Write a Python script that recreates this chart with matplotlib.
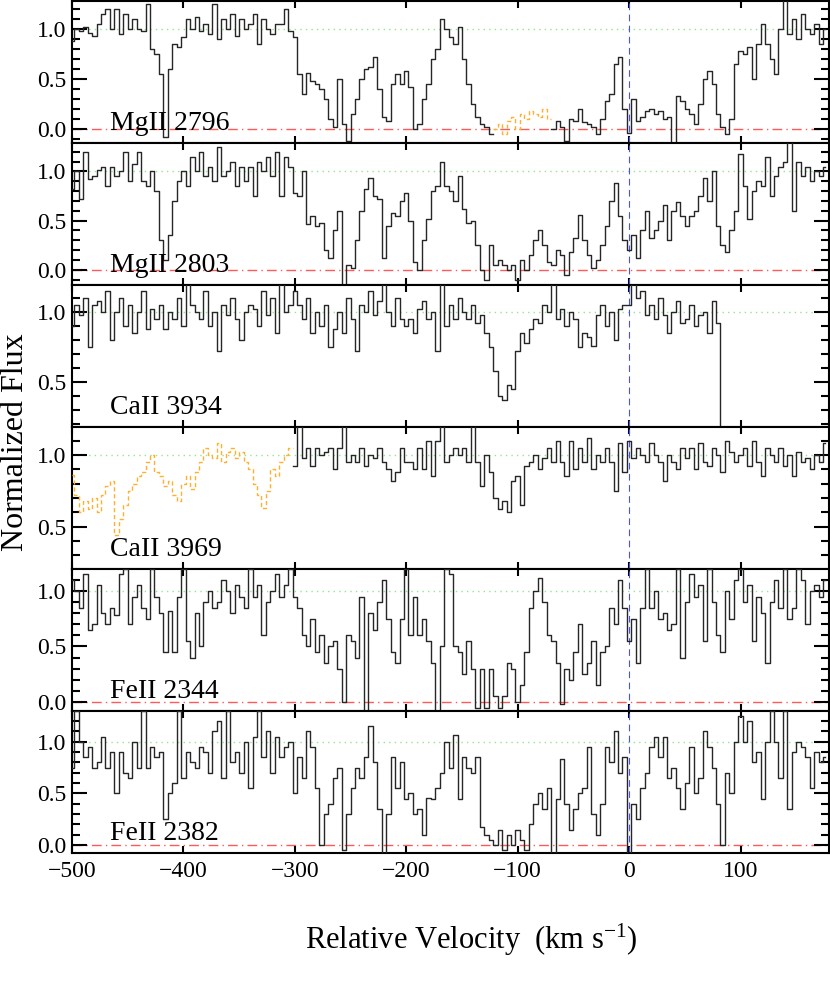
import numpy as np
import matplotlib
matplotlib.use("Agg")
import matplotlib.pyplot as plt
from matplotlib.ticker import MultipleLocator, FormatStrFormatter

plt.rcParams['font.family'] = ['Liberation Serif', 'DejaVu Serif']
plt.rcParams['mathtext.fontset'] = 'custom'
plt.rcParams['mathtext.rm'] = 'Liberation Serif'
plt.rcParams['mathtext.it'] = 'Liberation Serif:italic'

# ---------------- data ----------------
V_START = -500.0
V_STEP = 4.0
N_PIX = 170
velocity = V_START + V_STEP * np.arange(N_PIX)

line_names = ["MgII 2796", "MgII 2803", "CaII 3934", "CaII 3969", "FeII 2344", "FeII 2382"]

flux_mgii2796 = [
    0.88, 1.0, 0.98, 1.02, 0.96, 0.93, 1.05, 1.15, 1.2, 1.0,
    1.2, 0.95, 1.15, 1.0, 1.1, 1.0, 0.98, 1.25, 0.8, 0.75,
    0.55, -0.08, 0.6, 0.85, 0.82, 0.92, 1.1, 1.0, 1.12, 0.98,
    1.05, 0.95, 1.25, 0.9, 1.1, 1.0, 1.15, 0.93, 1.1, 1.0,
    1.05, 1.15, 0.85, 1.1, 1.0, 0.95, 1.05, 1.05, 1.2, 0.98,
    0.92, 0.55, 0.35, 0.56, 0.48, 0.45, 0.4, 0.3, 0.1, 0.02,
    0.5, 0.05, -0.12, 0.15, 0.3, 0.5, 0.6, 0.62, 0.72, 0.4,
    0.12, 0.08, 0.45, 0.55, 0.45, 0.58, 0.42, 0.0, 0.05, 0.3,
    0.45, 0.7, 0.8, 1.1, 1.0, 0.92, 0.85, 1.02, 0.7, 0.45,
    0.25, 0.12, 0.05, 0.02, -0.05, 0.0, 0.05, -0.05, 0.08, 0.12,
    0.0, 0.15, 0.1, 0.18, 0.15, 0.12, 0.2, 0.1, 0.0, 0.08,
    0.02, -0.12, 0.1, 0.08, 0.2, 0.07, 0.05, 0.02, -0.05, 0.1,
    0.28, 0.35, 0.65, 0.72, 0.2, -0.04, 0.3, 0.08, 0.12, 0.18,
    0.2, 0.15, 0.18, 0.1, 0.12, -0.14, 0.33, 0.28, 0.2, 0.15,
    0.05, 0.25, 0.5, 0.58, 0.45, 0.15, 0.02, -0.05, 0.1, 0.65,
    0.78, 0.75, 0.82, 0.5, 0.85, 1.05, 0.85, 0.7, 0.55, 1.0,
    1.3, 0.95, 1.1, 0.9, 1.15, 1.0, 0.95, 1.05, 0.85, 1.0,
]

flux_mgii2803 = [
    0.82, 1.0, 0.72, 1.2, 0.92, 0.95, 1.02, 1.05, 0.85, 1.05,
    0.95, 1.0, 1.2, 0.9, 1.08, 1.2, 0.9, 0.85, 1.0, 0.8,
    0.3, 0.1, 0.35, 0.7, 0.9, 1.0, 0.85, 1.15, 1.0, 1.2,
    0.95, 1.05, 0.9, 1.25, 0.95, 1.0, 1.1, 0.85, 1.05, 0.9,
    1.05, 0.75, 1.1, 1.0, 1.15, 0.95, 1.2, 0.75, 1.15, 1.05,
    0.78, 0.75, 1.0, 0.47, 0.55, 0.45, 0.48, 0.2, 0.12, 0.4,
    0.6, -0.15, 0.05, 0.02, 0.3, 0.6, 0.82, 0.93, 0.75, 0.72,
    0.12, 0.45, 0.58, 0.55, 0.7, 0.78, 0.5, 0.08, 0.0, 0.3,
    0.52, 0.8, 0.85, 1.1, 0.85, 0.8, 0.7, 0.95, 0.62, 0.48,
    0.5, 0.25, 0.0, -0.1, 0.25, 0.05, 0.1, 0.05, 0.0, 0.05,
    -0.1, 0.1, 0.0, 0.15, 0.3, 0.4, 0.25, 0.08, 0.05, 0.2,
    0.15, -0.05, 0.18, 0.32, 0.56, 0.3, 0.15, 0.02, 0.1, 0.25,
    0.45, 0.7, 0.88, 0.55, 0.3, 0.2, 0.35, 0.12, 0.4, 0.6,
    0.32, 0.4, 0.5, 0.66, 0.3, 0.6, 0.69, 0.55, 0.45, 0.55,
    0.6, 0.75, 0.93, 0.7, 1.0, 0.45, 0.25, 0.18, 0.4, 0.6,
    1.18, 0.85, 0.52, 0.8, 0.9, 0.85, 1.15, 0.75, 0.95, 1.05,
    1.1, 1.3, 0.6, 1.1, 0.95, 1.05, 0.9, 1.0, 0.95, 1.05,
]

nan = np.nan
flux_caii3934 = [
    0.9, 1.05, 0.98, 1.1, 0.75, 1.05, 1.08, 1.0, 1.15, 0.8,
    1.0, 1.1, 0.9, 1.05, 0.85, 1.0, 1.15, 0.88, 1.02, 0.95,
    1.05, 0.88, 1.0, 0.95, 1.1, 0.9, 1.2, 1.05, 1.0, 0.95,
    1.15, 0.9, 1.0, 0.72, 1.05, 0.98, 1.1, 0.95, 0.8, 1.0,
    1.05, 1.02, 0.9, 1.15, 0.98, 1.1, 0.85, 1.2, 1.0, 1.05,
    1.15, 1.05, 0.95, 1.1, 0.85, 1.0, 0.9, 1.05, 0.75, 0.88,
    1.0, 0.85, 1.1, 0.95, 0.72, 1.05, 1.0, 1.15, 0.98, 1.08,
    1.2, 1.0, 0.9, 1.1, 0.95, 0.9, 0.95, 0.85, 1.02, 1.08,
    0.95, 1.0, 0.72, 1.2, 0.9, 1.05, 0.95, 1.1, 1.0, 0.95,
    1.05, 0.92, 0.98, 0.85, 0.75, 0.58, 0.4, 0.37, 0.48, 0.45,
    0.72, 0.85, 0.78, 0.88, 0.95, 0.92, 1.05, 1.0, 1.2, 0.95,
    1.02, 0.9, 1.0, 0.95, 0.75, 0.85, 0.82, 0.76, 0.98, 1.05,
    0.9, 1.0, 0.8, 1.02, 1.05, 1.05, 1.2, 1.1, 1.15, 0.98,
    1.05, 0.95, 1.1, 0.98, 0.85, 1.0, 1.08, 0.92, 0.95, 1.05,
    0.9, 0.98, 1.0, 0.85, 1.08, 0.92, 0.0, nan, nan, nan,
    nan, nan, nan, nan, nan, nan, nan, nan, nan, nan,
    nan, nan, nan, nan, nan, nan, nan, nan, nan, nan,
]

flux_caii3969 = [
    0.86, 0.72, 0.6, 0.68, 0.62, 0.7, 0.6, 0.72, 0.78, 0.82,
    0.44, 0.55, 0.65, 0.75, 0.8, 0.85, 0.88, 0.95, 1.0, 0.88,
    0.85, 0.78, 0.82, 0.72, 0.68, 0.8, 0.85, 0.76, 0.88, 0.95,
    1.05, 1.0, 0.98, 1.08, 0.95, 1.02, 1.05, 0.98, 1.02, 0.95,
    0.9, 0.8, 0.72, 0.63, 0.75, 0.9, 0.85, 0.95, 1.0, 1.05,
    0.92, 1.2, 0.98, 1.05, 0.92, 1.05, 1.0, 1.02, 1.05, 0.9,
    1.05, 1.2, 0.95, 1.0, 0.95, 1.05, 0.92, 1.0, 0.98, 1.05,
    0.95, 0.9, 0.82, 0.88, 1.05, 0.95, 0.95, 0.9, 1.05, 0.9,
    1.1, 0.85, 1.1, 1.2, 0.95, 1.0, 1.05, 1.0, 1.05, 0.95,
    1.2, 0.95, 0.78, 1.0, 0.88, 0.7, 0.62, 0.68, 0.6, 0.82,
    0.85, 0.65, 0.92, 0.95, 1.0, 0.9, 0.98, 1.05, 0.95, 1.1,
    0.95, 0.85, 1.1, 0.9, 1.05, 0.95, 1.12, 0.9, 1.0, 0.95,
    1.05, 0.95, 0.75, 1.08, 0.88, 1.1, 0.98, 1.05, 1.0, 0.95,
    1.08, 1.0, 0.95, 0.82, 1.0, 0.95, 0.9, 1.05, 0.98, 1.05,
    0.9, 1.08, 0.95, 0.92, 1.05, 1.0, 0.88, 1.1, 1.02, 0.95,
    1.0, 1.05, 0.92, 1.1, 0.95, 0.85, 1.05, 1.0, 0.95, 1.05,
    0.92, 1.0, 0.85, 1.02, 0.95, 0.98, 0.9, 1.0, 0.95, 1.08,
]

flux_feii2344 = [
    1.1, 1.0, 0.85, 1.15, 0.65, 0.7, 1.05, 0.8, 0.7, 0.85,
    0.78, 1.15, 1.2, 0.7, 0.95, 1.05, 0.85, 0.75, 1.2, 0.95,
    0.8, 0.45, 0.82, 0.45, 0.95, 1.2, 0.55, 0.4, 0.8, 0.5,
    0.9, 1.0, 0.85, 0.9, 1.1, 1.0, 0.8, 1.05, 0.95, 0.85,
    1.2, 0.95, 1.05, 0.6, 0.9, 1.0, 1.15, 0.95, 1.05, 1.2,
    0.95, 0.85, 0.6, 0.5, 0.75, 0.45, 0.6, 0.35, 0.5, 0.55,
    0.3, 0.0, 0.6, 0.55, 0.4, 0.95, -0.08, 0.8, 0.65, 0.9,
    1.1, 0.75, 0.45, 0.35, 0.75, 1.2, 0.6, 0.95, 0.6, 0.75,
    0.55, 0.35, -0.08, 0.5, 1.2, 1.15, 0.5, 0.45, 0.25, 0.55,
    0.3, -0.05, 0.3, -0.05, 0.3, 0.05, -0.05, 0.05, 0.35, 0.3,
    0.0, 0.15, 0.45, 0.85, 1.0, 1.12, 0.9, 0.6, 0.55, 0.35,
    -0.02, 0.3, 0.2, 0.45, 0.7, 0.25, 0.35, 0.55, 0.15, 0.45,
    0.5, 0.85, 0.7, 1.1, 0.85, 0.55, 0.75, 0.35, 0.85, 1.2,
    0.85, 1.0, 0.75, 0.8, 0.65, 0.7, 1.2, 0.4, 0.9, 1.15,
    0.95, 1.05, 0.55, 1.2, 0.9, 0.6, 0.45, 1.0, 0.75, 1.1,
    1.2, 0.9, 1.05, 0.55, 0.95, 0.8, 0.35, 0.9, 1.1, 0.85,
    1.2, 0.75, 0.85, 1.2, 1.1, 0.7, 1.0, 1.05, 0.95, 1.1,
]

flux_feii2382 = [
    0.75, 1.3, 1.0, 0.85, 0.95, 0.75, 0.8, 1.05, 0.75, 0.9,
    0.5, 0.9, 0.7, 0.65, 1.0, 0.75, 1.3, 0.75, 0.95, 0.85,
    0.9, 0.25, 0.5, 0.6, 1.3, 0.65, 0.9, 0.8, 0.75, 0.95,
    0.9, 0.7, 1.1, 1.2, 0.65, 1.3, 0.8, 0.9, 0.7, 1.0,
    0.55, 1.05, 1.3, 0.85, 1.1, 0.7, 1.05, 0.85, 0.95, 1.0,
    0.5, 0.85, 0.65, 1.1, 0.95, 0.55, 0.0, 0.3, 0.4, 0.65,
    0.75, -0.05, 0.3, 0.55, 0.75, 0.65, 0.85, 1.15, 0.8, 0.35,
    -0.1, 0.3, 0.85, 0.55, 0.8, 0.45, 0.5, 0.3, 0.35, 0.1,
    0.46, 0.45, 0.55, 0.7, 1.0, 0.75, 1.06, 0.45, 0.85, 0.75,
    0.7, 0.85, 0.17, 0.1, 0.05, 0.0, 0.15, -0.05, 0.1, 0.0,
    0.15, 0.05, -0.05, 0.2, 0.4, 0.5, 0.35, 0.55, -0.08, 0.45,
    0.83, 0.4, 0.15, 0.35, 0.5, 0.55, 0.95, 0.3, 0.1, 0.4,
    0.95, 0.8, 1.1, 0.7, 0.85, -0.08, 0.4, 0.25, 0.55, 0.7,
    0.95, 1.05, 0.85, 1.05, 0.65, 0.75, 0.55, 0.35, 0.6, 0.95,
    0.5, 0.65, 1.1, 0.95, 0.75, 0.4, 0.0, 0.7, 0.5, 1.0,
    1.25, 1.0, 1.2, 0.8, 0.9, 0.45, 1.0, 1.3, 1.0, 0.65,
    1.3, 0.35, 0.9, 1.0, 0.95, 0.85, 0.55, 0.9, 0.8, 0.85,
]

# velocity ranges drawn as blended (orange dashed) data
blend_mgii2796 = (-120.0, -72.0)
blend_caii3969 = (-500.0, -304.0)

panel_flux = [flux_mgii2796, flux_mgii2803, flux_caii3934,
              flux_caii3969, flux_feii2344, flux_feii2382]
panel_blend = [blend_mgii2796, None, None, blend_caii3969, None, None]
panel_ylim = [(-0.14, 1.28), (-0.155, 1.29), (0.18, 1.195),
              (0.204, 1.195), (-0.081, 1.198), (-0.077, 1.297)]
panel_yticks = [[0.0, 0.5, 1.0], [0.0, 0.5, 1.0], [0.5, 1.0],
                [0.5, 1.0], [0.0, 0.5, 1.0], [0.0, 0.5, 1.0]]
panel_zero_line = [True, True, False, False, True, True]

x_ticks = [-500, -400, -300, -200, -100, 0, 100]
x_lim = (-500, 179.4)

# ---------------- figure ----------------
W, H = 830, 997
fig = plt.figure(figsize=(W / 100, H / 100), dpi=100)
left_px, right_px, top_px, panel_px = 72, 829, 1, 142

line_col = '0.15'
orange = '#ffb02e'

axes = []
for k in range(6):
    bottom = 1 - (top_px + (k + 1) * panel_px) / H
    ax = fig.add_axes([left_px / W, bottom, (right_px - left_px) / W, panel_px / H])
    axes.append(ax)
    flux = np.array(panel_flux[k], dtype=float)
    blend = panel_blend[k]
    if blend is not None:
        inb = (velocity >= blend[0]) & (velocity <= blend[1])
        ax.plot(velocity, np.where(inb, np.nan, flux), drawstyle='steps-mid',
                color=line_col, lw=1.0, zorder=3)
        ax.plot(velocity, np.where(inb, flux, np.nan), drawstyle='steps-mid',
                color=orange, lw=1.0, ls=(0, (3, 2)), zorder=3)
    else:
        ax.plot(velocity, flux, drawstyle='steps-mid', color=line_col, lw=1.0, zorder=3)

    ax.axhline(1.0, color='#8ee88e', ls=(0, (1, 3)), lw=1.0, zorder=1)
    if panel_zero_line[k]:
        ax.axhline(0.0, color='#ff5a5a', ls=(0, (7, 3, 1, 3)), lw=1.0, zorder=1)
    ax.axvline(0.0, color='#4455ee', ls=(0, (6, 4)), lw=0.8, zorder=2)

    ax.set_xlim(*x_lim)
    ax.set_ylim(*panel_ylim[k])
    ax.set_xticks(x_ticks)
    ax.set_yticks(panel_yticks[k])
    ax.yaxis.set_minor_locator(MultipleLocator(0.1))
    ax.yaxis.set_major_formatter(FormatStrFormatter('%.1f'))
    ax.tick_params(axis='both', which='both', direction='in', top=True, right=True,
                   labelsize=17, width=1.5, pad=4)
    ax.tick_params(axis='y', which='major', length=11)
    ax.tick_params(axis='y', which='minor', length=5.5)
    ax.tick_params(axis='x', which='major', length=5)
    if k < 5:
        ax.tick_params(axis='x', labelbottom=False)
    else:
        ax.tick_params(axis='x', pad=6)
    for sp in ax.spines.values():
        sp.set_linewidth(1.5)
    ax.text(0.05, 0.095, line_names[k], transform=ax.transAxes, fontsize=20,
            va='baseline', ha='left', zorder=4)

fig.text(471 / W, 1 - 940 / H, r'Relative Velocity  (km s$^{-1}$)', ha='center',
         va='center', fontsize=22)
fig.text(16 / W, 1 - 442 / H, 'Normalized Flux', rotation=90, ha='center',
         va='center', fontsize=23)

fig.savefig('out.png', dpi=100)
